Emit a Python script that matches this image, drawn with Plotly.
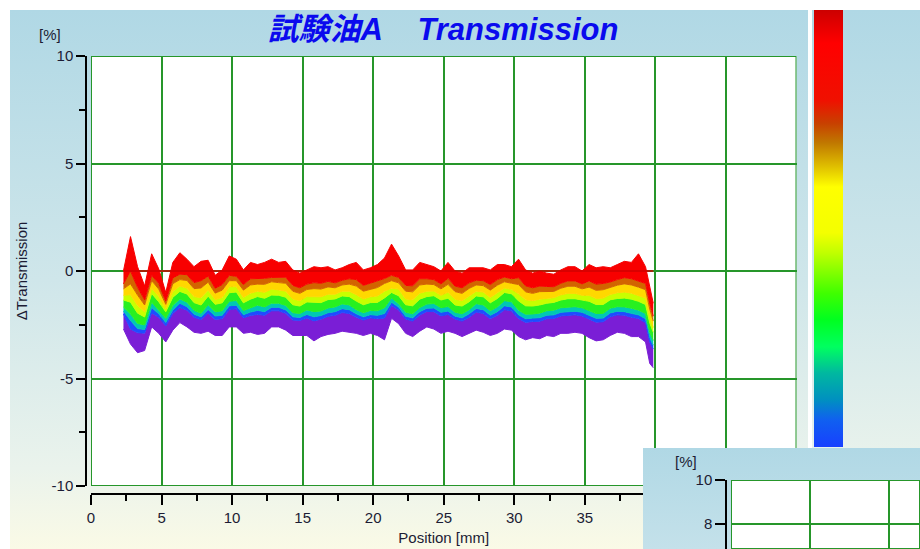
import base64
import plotly.graph_objects as go

# ---- data: ΔTransmission bands of the scan stack (per position) ----
position_mm = [2.3, 2.8, 3.3, 3.8, 4.3, 4.8, 5.3, 5.8, 6.3, 6.8,
               7.3, 7.8, 8.3, 8.8, 9.3, 9.8, 10.3, 10.8, 11.3, 11.8,
               12.3, 12.8, 13.3, 13.8, 14.3, 14.8, 15.3, 15.8, 16.3, 16.8,
               17.3, 17.8, 18.3, 18.8, 19.3, 19.8, 20.3, 20.8, 21.3, 21.8,
               22.3, 22.8, 23.3, 23.8, 24.3, 24.8, 25.3, 25.8, 26.3, 26.8,
               27.3, 27.8, 28.3, 28.8, 29.3, 29.8, 30.3, 30.8, 31.3, 31.8,
               32.3, 32.8, 33.3, 33.8, 34.3, 34.8, 35.3, 35.8, 36.3, 36.8,
               37.3, 37.8, 38.3, 38.8, 39.3, 39.6, 39.85]

band_top = [0.0, 1.6, 0.2, -0.7, 0.8, 0.1, -1.0, 0.4, 0.85, 0.55,
            0.2, 0.45, 0.5, -0.2, 0.05, 0.7, 0.55, 0.05, 0.4, 0.3,
            0.4, 0.55, 0.4, 0.45, 0.05, -0.1, 0.05, 0.2, 0.15, 0.2,
            0.05, 0.15, 0.3, 0.4, 0.05, 0.15, 0.3, 0.6, 1.25, 0.7,
            0.05, 0.05, 0.4, 0.3, 0.2, 0.0, 0.4, 0.0, -0.1, 0.15,
            0.15, 0.15, 0.05, 0.3, 0.3, 0.2, 0.55, 0.05, -0.1, 0.0,
            -0.1, -0.15, 0.05, 0.2, 0.2, 0.0, 0.3, 0.15, 0.2, 0.15,
            0.3, 0.45, 0.4, 0.8, 0.2, -0.75, -1.5]

red_lower = [-0.6, 0.0, -0.76, -1.34, -0.2, -0.58, -1.4, -0.32, -0.15, -0.17,
             -0.54, -0.45, -0.24, -0.8, -0.63, -0.2, -0.25, -0.63, -0.36, -0.36,
             -0.34, -0.3, -0.28, -0.29, -0.67, -0.78, -0.61, -0.54, -0.57, -0.48,
             -0.55, -0.43, -0.36, -0.4, -0.67, -0.57, -0.48, -0.35, -0.2, -0.3,
             -0.67, -0.69, -0.36, -0.36, -0.4, -0.6, -0.34, -0.7, -0.78, -0.55,
             -0.43, -0.45, -0.63, -0.4, -0.28, -0.36, -0.31, -0.69, -0.78, -0.7,
             -0.72, -0.73, -0.57, -0.46, -0.46, -0.6, -0.46, -0.61, -0.58, -0.51,
             -0.4, -0.31, -0.36, -0.46, -0.58, -1.49, -2.1]

orange_lower = [-0.83, -0.6, -1.12, -1.58, -0.45, -0.84, -1.55, -0.59, -0.4, -0.44,
                -0.82, -0.79, -0.52, -1.03, -0.89, -0.45, -0.45, -0.89, -0.65, -0.61,
                -0.62, -0.5, -0.54, -0.57, -0.94, -1.04, -0.86, -0.82, -0.84, -0.74,
                -0.78, -0.65, -0.61, -0.7, -0.94, -0.84, -0.77, -0.58, -0.45, -0.55,
                -0.94, -0.97, -0.65, -0.61, -0.63, -0.83, -0.62, -0.96, -1.04, -0.81,
                -0.65, -0.68, -0.89, -0.66, -0.5, -0.57, -0.63, -0.97, -1.04, -0.96,
                -0.95, -0.95, -0.8, -0.71, -0.71, -0.83, -0.75, -0.9, -0.87, -0.76,
                -0.66, -0.6, -0.65, -0.75, -0.87, -1.77, -2.33]

yellow_lower = [-1.13, -1.1, -1.6, -1.9, -0.8, -1.18, -1.75, -0.95, -0.7, -0.8,
                -1.19, -1.24, -0.89, -1.33, -1.23, -0.73, -0.73, -1.23, -1.03, -0.94,
                -0.99, -0.84, -0.88, -0.94, -1.3, -1.38, -1.19, -1.19, -1.2, -1.08,
                -1.08, -0.94, -0.94, -1.1, -1.3, -1.2, -1.16, -0.94, -0.8, -0.84,
                -1.3, -1.34, -1.03, -0.94, -0.93, -1.13, -0.99, -1.31, -1.38, -1.16,
                -0.94, -0.98, -1.23, -1.01, -0.79, -0.85, -1.06, -1.34, -1.38, -1.31,
                -1.26, -1.24, -1.11, -1.04, -1.04, -1.13, -1.13, -1.28, -1.26, -1.09,
                -1.01, -0.98, -1.03, -1.13, -1.26, -2.14, -2.63]

lime_lower = [-1.35, -1.45, -1.96, -2.14, -1.05, -1.43, -1.9, -1.22, -0.95, -1.07,
              -1.47, -1.58, -1.17, -1.55, -1.48, -1.01, -0.98, -1.48, -1.31, -1.19,
              -1.27, -1.12, -1.13, -1.22, -1.57, -1.63, -1.44, -1.47, -1.47, -1.33,
              -1.3, -1.16, -1.19, -1.4, -1.57, -1.47, -1.46, -1.25, -1.0, -1.15,
              -1.57, -1.62, -1.31, -1.19, -1.15, -1.35, -1.27, -1.58, -1.63, -1.43,
              -1.16, -1.2, -1.48, -1.28, -1.0, -1.06, -1.39, -1.62, -1.63, -1.58,
              -1.5, -1.46, -1.35, -1.29, -1.29, -1.35, -1.41, -1.56, -1.56, -1.34,
              -1.28, -1.26, -1.31, -1.41, -1.56, -2.42, -2.85]

green_lower = [-1.68, -2.0, -2.44, -2.51, -1.45, -1.8, -2.2, -1.6, -1.3, -1.45,
               -1.83, -1.97, -1.57, -1.9, -1.85, -1.41, -1.37, -1.84, -1.7, -1.59,
               -1.67, -1.5, -1.5, -1.6, -1.94, -1.98, -1.81, -1.89, -1.86, -1.72,
               -1.67, -1.53, -1.58, -1.8, -1.94, -1.84, -1.85, -1.71, -1.25, -1.52,
               -1.92, -1.99, -1.7, -1.54, -1.51, -1.71, -1.65, -1.92, -1.99, -1.8,
               -1.52, -1.58, -1.85, -1.67, -1.38, -1.43, -1.82, -2.01, -2.0, -1.96,
               -1.85, -1.82, -1.71, -1.67, -1.66, -1.71, -1.83, -1.98, -1.97, -1.73,
               -1.66, -1.67, -1.73, -1.82, -1.98, -2.86, -3.23]

teal_lower = [-1.86, -2.3, -2.68, -2.72, -1.7, -1.99, -2.39, -1.81, -1.5, -1.66,
              -2.01, -2.13, -1.79, -2.09, -2.06, -1.62, -1.59, -2.03, -1.91, -1.83,
              -1.89, -1.69, -1.69, -1.81, -2.13, -2.16, -2.02, -2.13, -2.07, -1.94,
              -1.89, -1.75, -1.8, -1.99, -2.13, -2.03, -2.06, -1.98, -1.45, -1.68,
              -2.1, -2.18, -1.89, -1.73, -1.72, -1.92, -1.86, -2.1, -2.18, -1.99,
              -1.74, -1.8, -2.06, -1.89, -1.62, -1.67, -2.04, -2.22, -2.19, -2.17,
              -2.06, -2.04, -1.92, -1.89, -1.87, -1.92, -2.05, -2.2, -2.19, -1.95,
              -1.87, -1.89, -1.97, -2.04, -2.22, -3.11, -3.45]

blue_lower = [-2.0, -2.7, -2.87, -2.89, -1.95, -2.15, -2.55, -1.97, -1.7, -1.82,
              -2.15, -2.26, -1.96, -2.25, -2.22, -1.79, -1.76, -2.18, -2.07, -2.02,
              -2.06, -1.85, -1.85, -1.97, -2.28, -2.3, -2.19, -2.32, -2.24, -2.11,
              -2.06, -1.93, -1.98, -2.15, -2.28, -2.18, -2.22, -2.19, -1.6, -1.81,
              -2.23, -2.33, -2.05, -1.88, -1.89, -2.09, -2.02, -2.23, -2.33, -2.15,
              -1.91, -1.98, -2.22, -2.06, -1.8, -1.85, -2.21, -2.39, -2.35, -2.34,
              -2.22, -2.21, -2.09, -2.06, -2.04, -2.09, -2.23, -2.38, -2.36, -2.13,
              -2.04, -2.06, -2.15, -2.21, -2.4, -3.31, -3.63]

band_bottom = [-2.7, -3.4, -3.8, -3.7, -2.6, -2.9, -3.3, -2.75, -2.4, -2.6,
               -2.85, -2.9, -2.8, -3.0, -3.0, -2.6, -2.6, -2.9, -2.85, -2.95,
               -2.9, -2.6, -2.6, -2.75, -3.0, -3.0, -3.0, -3.25, -3.05, -2.95,
               -2.9, -2.8, -2.85, -2.9, -3.0, -2.9, -3.0, -3.2, -2.2, -2.45,
               -2.9, -3.05, -2.8, -2.6, -2.7, -2.9, -2.8, -2.9, -3.05, -2.9,
               -2.75, -2.85, -3.0, -2.9, -2.7, -2.75, -3.05, -3.2, -3.1, -3.15,
               -3.0, -3.05, -2.9, -2.9, -2.85, -2.9, -3.1, -3.25, -3.2, -3.0,
               -2.85, -2.9, -3.05, -3.05, -3.3, -4.3, -4.5]

# first scan is the reference, so its delta is zero along the cell
reference_pos = [2.3, 39.85]
reference_scan = [0.0, 0.0]

x_tick_vals = [0, 5, 10, 15, 20, 25, 30, 35, 40, 45, 50]
x_tick_text = ["0", "5", "10", "15", "20", "25", "30", "35", "40", "45", "50"]
y_tick_vals = [-10, -5, 0, 5, 10]
y_tick_text = ["-10", "-5", "0", "5", "10"]
inset_tick_vals = [8, 10]
inset_tick_text = ["8", "10"]

# ---- styling ----
W, H = 920, 549
GRID = "#26962a"
TEXT = "#1c1c34"
FONT = "Liberation Sans, Arial, sans-serif"
TITLE_FONT = "Liberation Sans, Noto Sans CJK JP, sans-serif"

BAND_COLORS = {
    "top": "#f80000",
    "red": "#f80000",
    "orange": "#d26400",
    "yellow": "#ffd800",
    "lime": "#c8ff00",
    "green": "#28f020",
    "teal": "#00c8b4",
    "blue": "#1e4cff",
    "purple": "#7a1ed6",
}

SCAN_COLORSCALE = [
    [0.0, "#1840ff"], [0.062, "#1060f0"], [0.108, "#0090c0"], [0.169, "#00b8a0"],
    [0.229, "#00ff60"], [0.291, "#00ff20"], [0.352, "#40ff00"], [0.444, "#c0ff00"],
    [0.49, "#f4ff00"], [0.595, "#ffff00"], [0.641, "#e0c000"], [0.696, "#c07800"],
    [0.741, "#c84000"], [0.794, "#f01000"], [0.924, "#ff0000"], [1.0, "#cc0000"],
]


def fx(p):
    return p / W


def fy(p):
    return 1 - p / H


def svg_uri(svg):
    return "data:image/svg+xml;base64," + base64.b64encode(svg.encode()).decode()


# panel backgrounds (vertical sky-to-cream gradient) with the white plot area
panel_svg = f"""<svg xmlns="http://www.w3.org/2000/svg" width="{W}" height="{H}" viewBox="0 0 {W} {H}" preserveAspectRatio="none">
<defs><linearGradient id="g" x1="0" y1="0" x2="0" y2="1">
<stop offset="0" stop-color="#b0d8e5"/><stop offset="0.5" stop-color="#cfe6ea"/>
<stop offset="0.85" stop-color="#eaf3ec"/><stop offset="1" stop-color="#fafae6"/>
</linearGradient></defs>
<rect width="{W}" height="{H}" fill="#ffffff"/>
<rect x="10" y="10" width="798" height="539" fill="url(#g)"/>
<rect x="812" y="10" width="108" height="539" fill="url(#g)"/>
<rect x="91" y="56" width="705.5" height="430" fill="#ffffff"/>
</svg>"""

inset_svg = """<svg xmlns="http://www.w3.org/2000/svg" width="277" height="101" viewBox="0 0 277 101" preserveAspectRatio="none">
<defs><linearGradient id="h" x1="0" y1="0" x2="0" y2="1">
<stop offset="0" stop-color="#b0d8e5"/><stop offset="1" stop-color="#c4e1ea"/>
</linearGradient></defs>
<rect width="277" height="101" fill="url(#h)"/>
</svg>"""

fig = go.Figure()

# colour bands of the scan stack, top edge first
fig.add_trace(go.Scatter(x=position_mm, y=band_top, mode="lines",
                         line=dict(color=BAND_COLORS["top"], width=1),
                         hoverinfo="skip", showlegend=False))
for name, values in [("red", red_lower), ("orange", orange_lower),
                     ("yellow", yellow_lower), ("lime", lime_lower),
                     ("green", green_lower), ("teal", teal_lower),
                     ("blue", blue_lower), ("purple", band_bottom)]:
    fig.add_trace(go.Scatter(x=position_mm, y=values, mode="lines",
                             line=dict(color=BAND_COLORS[name], width=1),
                             fill="tonexty", fillcolor=BAND_COLORS[name],
                             hoverinfo="skip", showlegend=False))

fig.add_trace(go.Scatter(x=reference_pos, y=reference_scan, mode="lines",
                         line=dict(color="#d00000", width=1.3),
                         hoverinfo="skip", showlegend=False))

# scan colour scale
fig.add_trace(go.Scatter(
    x=[None], y=[None], mode="markers", showlegend=False, hoverinfo="skip",
    marker=dict(color=[0], cmin=0, cmax=1, colorscale=SCAN_COLORSCALE, showscale=True,
                colorbar=dict(x=fx(813.5), xanchor="left", y=fy(10), yanchor="top",
                              len=437, lenmode="pixels", thickness=29, thicknessmode="pixels",
                              xpad=0, ypad=0, outlinewidth=0, borderwidth=0,
                              showticklabels=False, ticks=""))))

# second chart panel (partly visible) and its plot area
fig.add_trace(go.Scatter(x=[], y=[], xaxis="x2", yaxis="y2", showlegend=False, hoverinfo="skip"))
fig.add_trace(go.Scatter(x=[], y=[], xaxis="x3", yaxis="y3", showlegend=False, hoverinfo="skip"))

tickfont = dict(family=FONT, size=15, color=TEXT)
inset_low = 10 - (H - 480) / 21.75

fig.update_layout(
    width=W, height=H,
    margin=dict(l=0, r=0, t=0, b=0, pad=0),
    paper_bgcolor="#ffffff",
    plot_bgcolor="rgb(255,255,255)",
    showlegend=False,
    hovermode=False,
    font=dict(family=FONT, size=15, color=TEXT),
    title=dict(text="試験油A\u00a0\u00a0\u00a0\u00a0Transmission",
               x=fx(443), xanchor="center", y=fy(29), yanchor="middle",
               xref="paper", yref="paper",
               font=dict(family=TITLE_FONT, size=31, color="#0a0aee",
                         weight="bold", style="italic")),
    xaxis=dict(domain=[fx(91), fx(796.5)], range=[0, 50], anchor="free", position=fy(494),
               showgrid=True, gridcolor=GRID, gridwidth=2, zeroline=False,
               showline=True, linecolor="black", linewidth=1.5,
               tickmode="array", tickvals=x_tick_vals, ticktext=x_tick_text,
               ticks="outside", ticklen=10, tickwidth=1.5, tickcolor="black",
               minor=dict(ticks="outside", ticklen=6, tickwidth=1.5, tickcolor="black",
                          tickmode="linear", tick0=0, dtick=2.5, showgrid=False),
               tickfont=tickfont, automargin=False, fixedrange=True,
               title=dict(text="Position [mm]", standoff=7,
                          font=dict(family=FONT, size=15, color=TEXT))),
    yaxis=dict(domain=[fy(486), fy(56)], range=[-10, 10], anchor="free", position=fx(86),
               side="left",
               showgrid=True, gridcolor=GRID, gridwidth=2, zeroline=False,
               showline=True, linecolor="black", linewidth=1.5,
               tickmode="array", tickvals=y_tick_vals, ticktext=y_tick_text,
               ticks="outside", ticklen=9, tickwidth=1.5, tickcolor="black",
               minor=dict(ticks="outside", ticklen=6, tickwidth=1.5, tickcolor="black",
                          tickmode="linear", tick0=0, dtick=2.5, showgrid=False),
               tickfont=tickfont, automargin=False, fixedrange=True,
               title=dict(text="ΔTransmission", standoff=19,
                          font=dict(family=FONT, size=15, color=TEXT))),
    xaxis2=dict(domain=[fx(643), 1], range=[0, 1], anchor="y2", visible=False, fixedrange=True),
    yaxis2=dict(domain=[0, fy(448)], range=[0, 1], anchor="x2", visible=False, fixedrange=True),
    xaxis3=dict(domain=[fx(731), 1], range=[0, 12], anchor="y3", tickmode="linear", tick0=0, dtick=5,
                showgrid=True, gridcolor=GRID, gridwidth=2, zeroline=False, showline=False,
                showticklabels=False, ticks="", automargin=False, fixedrange=True),
    yaxis3=dict(domain=[0, fy(480)], range=[inset_low, 10], anchor="free", position=fx(726),
                side="left", showgrid=True, gridcolor=GRID, gridwidth=2, zeroline=False,
                showline=True, linecolor="black", linewidth=1.5,
                tickmode="array", tickvals=inset_tick_vals, ticktext=inset_tick_text,
                ticks="outside", ticklen=10, tickwidth=1.5, tickcolor="black",
                tickfont=tickfont, automargin=False, fixedrange=True),
    images=[
        dict(source=svg_uri(panel_svg), xref="paper", yref="paper", x=0, y=1,
             sizex=1, sizey=1, xanchor="left", yanchor="top", sizing="stretch", layer="below"),
        dict(source=svg_uri(inset_svg), xref="x2", yref="y2", x=0, y=1,
             sizex=1, sizey=1, xanchor="left", yanchor="top", sizing="stretch", layer="below"),
    ],
    shapes=[
        dict(type="rect", xref="x", yref="y", x0=0, x1=50, y0=-10, y1=10,
             line=dict(color=GRID, width=2), layer="below"),
        dict(type="rect", xref="x3", yref="y3", x0=0, x1=12, y0=inset_low, y1=10,
             line=dict(color=GRID, width=2), layer="below"),
    ],
    annotations=[
        dict(text="[%]", x=fx(50), y=fy(34), xref="paper", yref="paper",
             xanchor="center", yanchor="middle", showarrow=False,
             font=dict(family=FONT, size=15, color=TEXT)),
        dict(text="[%]", x=fx(686), y=fy(461.5), xref="paper", yref="paper",
             xanchor="center", yanchor="middle", showarrow=False,
             font=dict(family=FONT, size=15, color=TEXT)),
    ],
)

fig.write_html("out.html")
